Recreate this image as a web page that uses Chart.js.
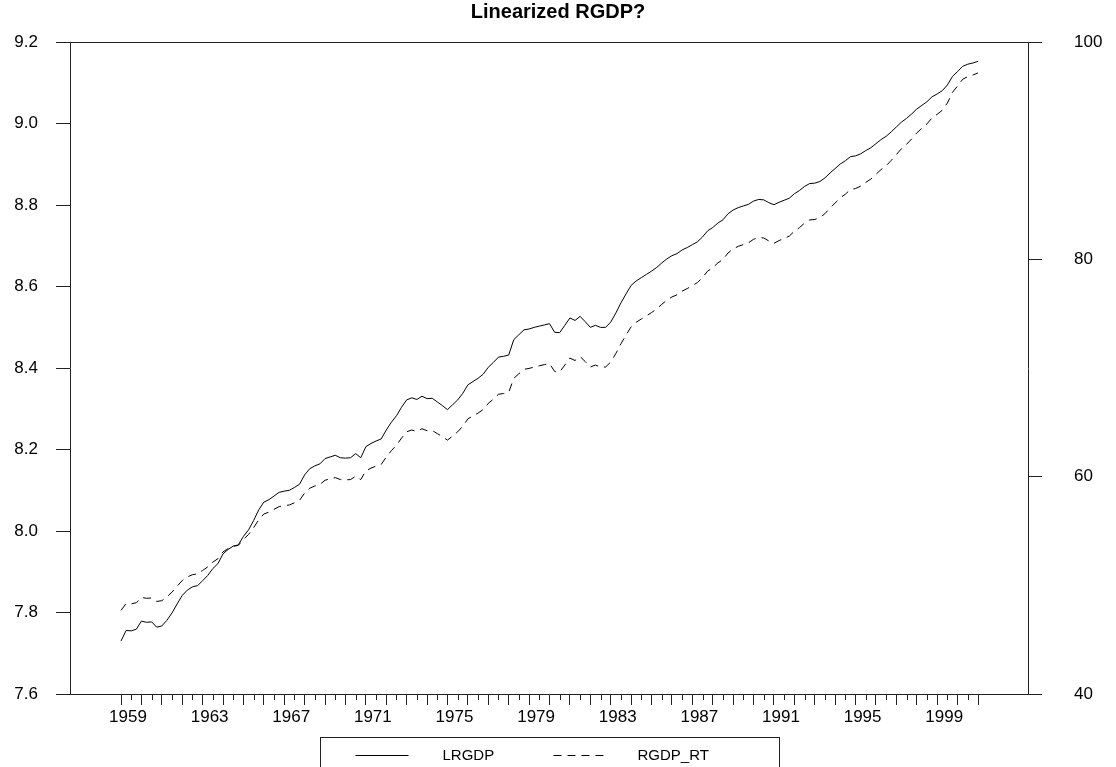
<!DOCTYPE html>
<html>
<head>
<meta charset="utf-8">
<title>Linearized RGDP?</title>
<script src="https://cdn.jsdelivr.net/npm/chart.js@4.4.1/dist/chart.umd.min.js"></script>
<style>
  html, body { margin: 0; padding: 0; background: #fff; }
  #chart { display: block; }
</style>
</head>
<body>
<canvas id="chart" width="1116" height="767"></canvas>
<script>
// Quarterly series, 1959Q1 .. 2001Q1
const lrgdp = [
    7.730, 7.756, 7.755, 7.759, 7.779, 7.776, 7.777, 7.764, 7.767, 7.781,
    7.799, 7.821, 7.842, 7.855, 7.863, 7.866, 7.878, 7.891, 7.908, 7.920,
    7.944, 7.955, 7.963, 7.966, 7.987, 8.003, 8.026, 8.052, 8.071, 8.077,
    8.086, 8.095, 8.098, 8.100, 8.107, 8.115, 8.138, 8.153, 8.160, 8.165,
    8.178, 8.182, 8.186, 8.180, 8.179, 8.180, 8.190, 8.180, 8.207, 8.215,
    8.221, 8.226, 8.248, 8.267, 8.283, 8.304, 8.322, 8.327, 8.323, 8.331,
    8.325, 8.326, 8.317, 8.308, 8.298, 8.310, 8.322, 8.338, 8.359, 8.367,
    8.375, 8.385, 8.402, 8.414, 8.427, 8.429, 8.432, 8.470, 8.482, 8.494,
    8.496, 8.500, 8.503, 8.506, 8.509, 8.488, 8.487, 8.505, 8.523, 8.517,
    8.527, 8.514, 8.500, 8.505, 8.500, 8.500, 8.513, 8.535, 8.560, 8.582,
    8.603, 8.614, 8.622, 8.630, 8.638, 8.647, 8.658, 8.668, 8.676, 8.681,
    8.690, 8.696, 8.703, 8.710, 8.722, 8.737, 8.745, 8.756, 8.764, 8.779,
    8.788, 8.794, 8.798, 8.802, 8.810, 8.814, 8.813, 8.806, 8.801, 8.807,
    8.812, 8.817, 8.828, 8.836, 8.846, 8.853, 8.854, 8.858, 8.867, 8.879,
    8.890, 8.901, 8.909, 8.919, 8.921, 8.926, 8.934, 8.941, 8.951, 8.961,
    8.969, 8.980, 8.992, 9.004, 9.013, 9.024, 9.036, 9.045, 9.054, 9.066,
    9.073, 9.081, 9.095, 9.116, 9.128, 9.141, 9.146, 9.149, 9.153
];

// right axis series
const rgdpRt = [
    47.70, 48.33, 48.30, 48.40, 48.89, 48.81, 48.84, 48.52, 48.59, 48.94,
    49.38, 49.92, 50.45, 50.78, 50.98, 51.06, 51.37, 51.70, 52.14, 52.46,
    53.09, 53.38, 53.60, 53.68, 54.24, 54.68, 55.31, 56.04, 56.57, 56.74,
    57.00, 57.25, 57.34, 57.40, 57.60, 57.83, 58.50, 58.94, 59.15, 59.29,
    59.68, 59.80, 59.92, 59.74, 59.71, 59.74, 60.04, 59.74, 60.55, 60.79,
    60.98, 61.13, 61.81, 62.40, 62.90, 63.56, 64.14, 64.30, 64.17, 64.42,
    64.23, 64.26, 63.97, 63.69, 63.37, 63.75, 64.14, 64.65, 65.33, 65.60,
    65.86, 66.19, 66.75, 67.15, 67.59, 67.66, 67.76, 69.06, 69.48, 69.89,
    69.97, 70.10, 70.21, 70.32, 70.42, 69.69, 69.65, 70.28, 70.92, 70.70,
    71.06, 70.60, 70.10, 70.28, 70.10, 70.10, 70.56, 71.34, 72.24, 73.04,
    73.81, 74.22, 74.52, 74.81, 75.11, 75.45, 75.87, 76.25, 76.55, 76.75,
    77.09, 77.32, 77.60, 77.87, 78.34, 78.93, 79.24, 79.68, 80.00, 80.60,
    80.96, 81.21, 81.37, 81.53, 81.86, 82.02, 81.98, 81.70, 81.49, 81.74,
    81.94, 82.15, 82.60, 82.93, 83.35, 83.64, 83.68, 83.85, 84.22, 84.73,
    85.20, 85.67, 86.01, 86.44, 86.53, 86.75, 87.10, 87.40, 87.84, 88.28,
    88.63, 89.12, 89.66, 90.20, 90.60, 91.10, 91.65, 92.07, 92.48, 93.04,
    93.36, 93.74, 94.40, 95.39, 95.97, 96.59, 96.83, 96.98, 97.17
];

const yearLabels = ['1959', '1963', '1967', '1971', '1975', '1979', '1983', '1987', '1991', '1995', '1999'];
const leftTicks = [7.6, 7.8, 8.0, 8.2, 8.4, 8.6, 8.8, 9.0, 9.2];
const rightTicks = [40, 60, 80, 100];

// quarter labels, index 0 = 1959Q1
const quarters = [];
for (let i = 0; i < lrgdp.length; i++) {
    quarters.push((1959 + Math.floor(i / 4)) + 'Q' + (i % 4 + 1));
}

const axisColor = '#222';
Chart.defaults.font.family = '"Liberation Sans", Arial, Helvetica, sans-serif';
Chart.defaults.color = '#000';

// top frame line, half-year minor ticks and the boxed legend
const framePlugin = {
    id: 'framePlugin',
    afterDraw(chart) {
        const { ctx, chartArea: a, scales: { x } } = chart;
        ctx.save();
        ctx.strokeStyle = axisColor;
        ctx.lineWidth = 1;

        const top = Math.round(a.top) + 0.5;
        ctx.beginPath();
        ctx.moveTo(a.left, top);
        ctx.lineTo(a.right, top);
        ctx.stroke();

        ctx.beginPath();
        for (let q = 2; q < lrgdp.length; q += 4) {
            const px = Math.round(x.getPixelForValue(q)) + 0.5;
            ctx.moveTo(px, a.bottom);
            ctx.lineTo(px, a.bottom + 6);
        }
        ctx.stroke();

        // legend box
        const boxW = 459;
        const boxLeft = Math.round((a.left + a.right) / 2 - boxW / 2) + 0.5;
        const boxTop = 737.5;
        ctx.strokeRect(boxLeft, boxTop, boxW, 40);

        const rowY = 755.5;
        ctx.font = '15px "Liberation Sans", Arial, sans-serif';
        ctx.fillStyle = '#000';
        ctx.textBaseline = 'middle';
        chart.data.datasets.forEach((ds, i) => {
            const off = boxLeft + i * 198;
            ctx.strokeStyle = '#000';
            ctx.setLineDash(ds.borderDash || []);
            ctx.beginPath();
            ctx.moveTo(off + 35, rowY);
            ctx.lineTo(off + 88, rowY);
            ctx.stroke();
            ctx.setLineDash([]);
            ctx.fillText(ds.label, off + 122 - i * 3, rowY);
        });
        ctx.restore();
    }
};

const ctx = document.getElementById('chart').getContext('2d');
const rgdpChart = new Chart(ctx, {
    type: 'line',
    data: {
        labels: quarters,
        datasets: [{
            label: 'LRGDP',
            data: lrgdp.map((v, i) => ({ x: i, y: v })),
            yAxisID: 'y',
            borderColor: '#000',
            borderWidth: 1,
            pointRadius: 0,
            tension: 0,
            fill: false
        }, {
            label: 'RGDP_RT',
            data: rgdpRt.map((v, i) => ({ x: i, y: v })),
            yAxisID: 'y1',
            borderColor: '#000',
            borderWidth: 1,
            borderDash: [8, 6],
            pointRadius: 0,
            tension: 0,
            fill: false
        }]
    },
    options: {
        responsive: false,
        animation: false,
        layout: { padding: 0 },
        plugins: {
            legend: { display: false },
            tooltip: { enabled: false },
            title: {
                display: true,
                text: 'Linearized RGDP?',
                color: '#000',
                font: { size: 20, weight: 'bold' },
                padding: { top: 0, bottom: 17.3 }
            }
        },
        scales: {
            x: {
                type: 'linear',
                position: 'bottom',
                min: -10,
                max: 177.8,
                afterBuildTicks: (scale) => {
                    const t = [];
                    for (let q = 0; q < lrgdp.length; q += 4) t.push({ value: q });
                    scale.ticks = t;
                },
                afterFit: (scale) => { scale.height = 73; },
                grid: { drawOnChartArea: false, tickLength: 11, color: axisColor },
                border: { color: axisColor },
                ticks: {
                    autoSkip: false,
                    maxRotation: 0,
                    padding: 2,
                    labelOffset: 7,
                    font: { size: 17 },
                    callback: (v) => (v % 16 === 0 ? yearLabels[v / 16] : '')
                }
            },
            y: {
                position: 'left',
                min: 7.6,
                max: 9.2,
                afterBuildTicks: (scale) => { scale.ticks = leftTicks.map(v => ({ value: v })); },
                afterFit: (scale) => { scale.width = 70; },
                grid: { drawOnChartArea: false, tickLength: 14, color: axisColor },
                border: { color: axisColor },
                ticks: {
                    padding: 18,
                    font: { size: 17 },
                    callback: (v) => Number(v).toFixed(1)
                }
            },
            y1: {
                position: 'right',
                min: 40,
                max: 100,
                afterBuildTicks: (scale) => { scale.ticks = rightTicks.map(v => ({ value: v })); },
                afterFit: (scale) => { scale.width = 88; },
                grid: { drawOnChartArea: false, tickLength: 14, color: axisColor },
                border: { color: axisColor },
                ticks: {
                    padding: 32,
                    font: { size: 17 },
                    callback: (v) => String(v)
                }
            }
        }
    },
    plugins: [framePlugin]
});
</script>
</body>
</html>
